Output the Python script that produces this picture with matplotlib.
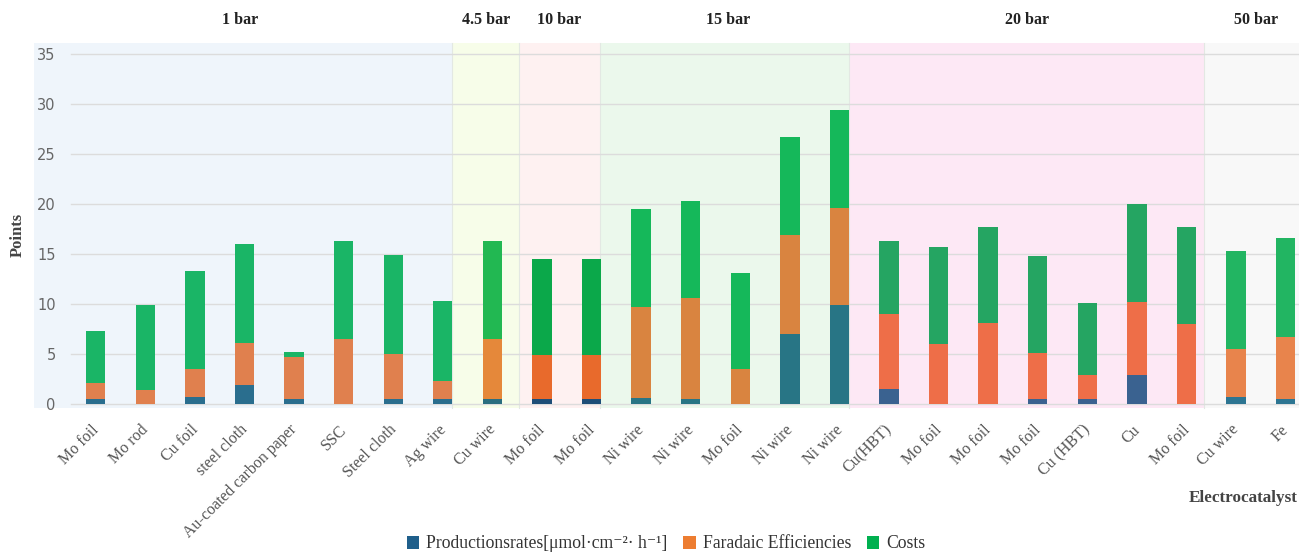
import matplotlib
matplotlib.use("Agg")
import matplotlib.pyplot as plt
from matplotlib.patches import Rectangle, Patch
from matplotlib.transforms import ScaledTranslation
import numpy as np

categories = ["Mo foil", "Mo rod", "Cu foil", "steel cloth", "Au-coated carbon paper", "SSC",
              "Steel cloth", "Ag wire", "Cu wire", "Mo foil", "Mo foil", "Ni wire", "Ni wire",
              "Mo foil", "Ni wire", "Ni wire", "Cu(HBT)", "Mo foil", "Mo foil", "Mo foil",
              "Cu (HBT)", "Cu", "Mo foil", "Cu wire", "Fe"]
# stacked segment values
production = [0.5, 0.0, 0.77, 1.97, 0.57, 0.0, 0.5, 0.57, 0.5, 0.57, 0.57, 0.63, 0.57,
              0.0, 7.03, 9.97, 1.5, 0.0, 0.0, 0.57, 0.57, 2.97, 0.0, 0.7, 0.5]
faradaic_top = [2.16, 1.43, 3.5, 6.17, 4.7, 6.5, 5.03, 2.3, 6.57, 4.9, 4.9, 9.7, 10.63,
                3.5, 16.9, 19.63, 9.03, 6.03, 8.1, 5.17, 2.9, 10.23, 8.03, 5.5, 6.77]
costs_top = [7.3, 9.9, 13.3, 16.03, 5.23, 16.37, 14.97, 10.37, 16.37, 14.57, 14.57, 19.5, 20.37,
             13.17, 26.7, 29.43, 16.3, 15.7, 17.77, 14.83, 10.1, 20.03, 17.7, 15.3, 16.63]
pressure_labels = ["1 bar", "4.5 bar", "10 bar", "15 bar", "20 bar", "50 bar"]
group_of_bar = [0]*8 + [1] + [2]*2 + [3]*5 + [4]*7 + [5]*2
series_names = ["Productionsrates[μmol·cm⁻²· h⁻¹]", "Faradaic Efficiencies", "Costs"]

faradaic = [f - p for f, p in zip(faradaic_top, production)]
costs = [c - f for c, f in zip(costs_top, faradaic_top)]

# styles
region_bounds = [(-1.24, 7.18), (7.18, 8.54), (8.54, 10.17), (10.17, 15.2), (15.2, 22.35), (22.35, 24.4)]
region_bg = ["#eff5fb", "#f7fde9", "#fef1f1", "#ebf8ec", "#fde8f5", "#f8f8f8"]
region_cols = [
    ("#2a6e8e", "#e0804e", "#1ab566"),
    ("#2a6e80", "#e5883a", "#22b852"),
    ("#1e4e78", "#e86a2c", "#0ba84a"),
    ("#287585", "#d98440", "#15b85a"),
    ("#3a6290", "#ee6e48", "#25a562"),
    ("#2d7592", "#e8844c", "#22b562"),
]
legend_cols = ["#1f5f8b", "#ed7d31", "#00b050"]
serif = ["Liberation Serif", "DejaVu Serif"]

fig = plt.figure(figsize=(12.99, 5.54), dpi=100)
ax = fig.add_axes([0.0547, 0.2635, 0.9453, 0.6595])
ax.patch.set_visible(False)
ax.set_xlim(-0.498, 24.27)
ax.set_ylim(-0.37, 36.16)

for (x0, x1), c in zip(region_bounds, region_bg):
    ax.add_patch(Rectangle((x0, -0.37), x1 - x0, 36.53, facecolor=c, edgecolor="none",
                           zorder=0, clip_on=False))
for (x0, x1) in region_bounds[1:]:
    ax.plot([x0, x0], [-0.37, 36.16], color="#e3e8e3", lw=0.8, zorder=0.1, clip_on=False)

for yv in range(0, 36, 5):
    ax.plot([-0.5, 24.27], [yv, yv], color="#dcdcdc", lw=1.0, zorder=0.2, clip_on=False)

x = np.arange(len(categories))
bw = 0.39
cb = [region_cols[g][0] for g in group_of_bar]
co = [region_cols[g][1] for g in group_of_bar]
cg = [region_cols[g][2] for g in group_of_bar]
ax.bar(x, production, bw, color=cb, zorder=2)
ax.bar(x, faradaic, bw, bottom=production, color=co, zorder=2)
ax.bar(x, costs, bw, bottom=faradaic_top, color=cg, zorder=2)

for s in ax.spines.values():
    s.set_visible(False)
ax.set_yticks(range(0, 36, 5))
ax.tick_params(axis="y", length=0, pad=11, labelsize=10.5, labelcolor="#666666")
ax.tick_params(axis="x", length=0, pad=10)
ax.set_xticks(x)
ax.set_xticklabels(categories, rotation=45, ha="right", rotation_mode="anchor",
                   family=serif, fontsize=11.5, color="#555555")
shift = ScaledTranslation(-0.05, 0, fig.dpi_scale_trans)
for lab in ax.get_xticklabels():
    lab.set_transform(lab.get_transform() + shift)

fig.text(18 / 1299, 1 - 235 / 554, "Points", rotation=90, ha="center", va="center", fontsize=12,
         family="Liberation Serif", fontweight="bold", color="#444444")

centers = [240, 486, 559, 728, 1027, 1256]
for lab, cx in zip(pressure_labels, centers):
    fig.text(cx / 1299, 1 - 20 / 554, lab, ha="center", va="center", fontsize=11.5,
             family="Liberation Serif", fontweight="bold", color="#222222")

fig.text(1243 / 1299, 1 - 498 / 554, "Electrocatalyst", ha="center", va="center",
         fontsize=12.3, family="Liberation Serif", fontweight="bold", color="#444444")

handles = [Patch(facecolor=c, edgecolor="none") for c in legend_cols]
leg = fig.legend(handles, series_names, loc="center", bbox_to_anchor=(666 / 1299, 1 - 544 / 554),
                 ncol=3, frameon=False, handlelength=0.7, handleheight=0.7, handletextpad=0.4,
                 columnspacing=0.9, prop={"family": serif, "size": 12.7})
for t in leg.get_texts():
    t.set_color("#333333")

fig.savefig("out.png", dpi=100)
